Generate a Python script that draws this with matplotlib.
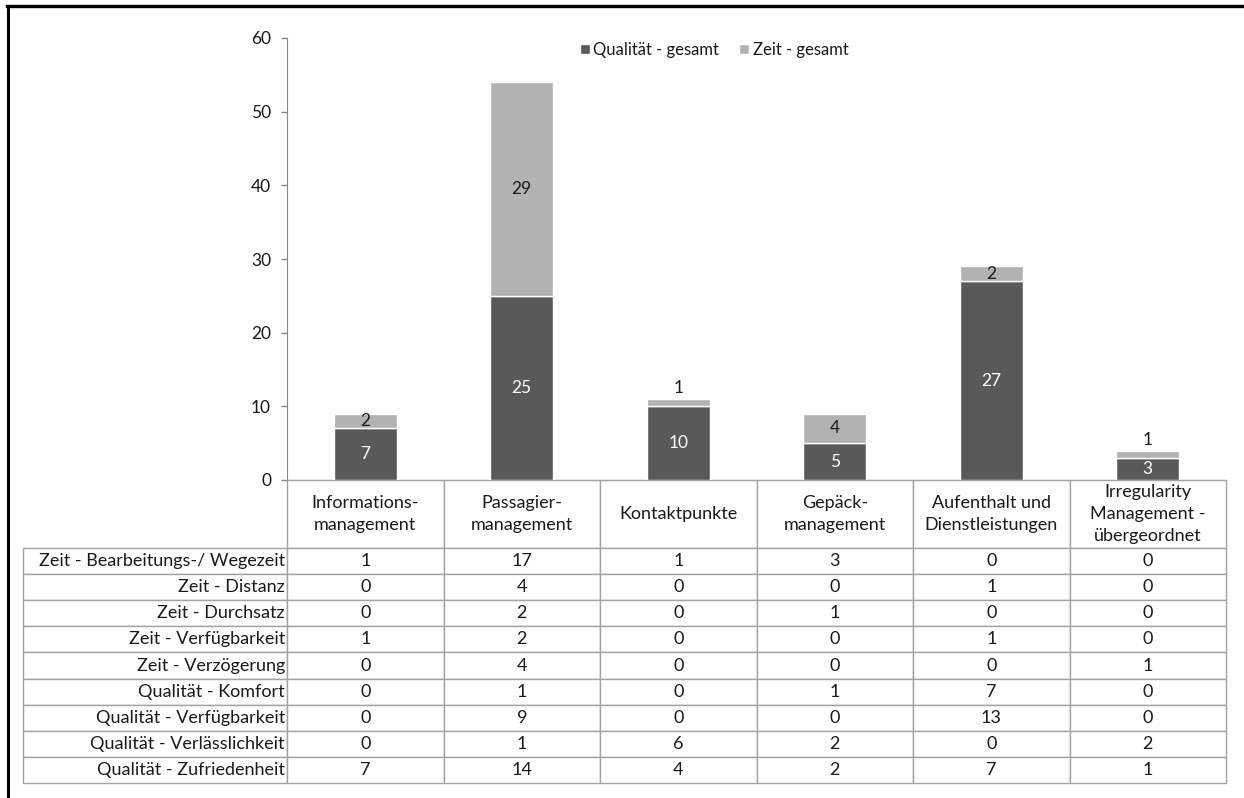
import matplotlib.pyplot as plt
from matplotlib.lines import Line2D
import numpy as np

plt.rcParams['font.family'] = ['Lato', 'DejaVu Sans']

categories = [
    "Informations-\nmanagement",
    "Passagier-\nmanagement",
    "Kontaktpunkte",
    "Gepäck-\nmanagement",
    "Aufenthalt und\nDienstleistungen",
    "Irregularity\nManagement -\nübergeordnet",
]
qualitaet_gesamt = [7, 25, 10, 5, 27, 3]
zeit_gesamt = [2, 29, 1, 4, 2, 1]

row_labels = [
    "Zeit - Bearbeitungs-/ Wegezeit",
    "Zeit - Distanz",
    "Zeit - Durchsatz",
    "Zeit - Verfügbarkeit",
    "Zeit - Verzögerung",
    "Qualität - Komfort",
    "Qualität - Verfügbarkeit",
    "Qualität - Verlässlichkeit",
    "Qualität - Zufriedenheit",
]
table_values = [
    [1, 17, 1, 3, 0, 0],
    [0, 4, 0, 0, 1, 0],
    [0, 2, 0, 1, 0, 0],
    [1, 2, 0, 0, 1, 0],
    [0, 4, 0, 0, 0, 1],
    [0, 1, 0, 1, 7, 0],
    [0, 9, 0, 0, 13, 0],
    [0, 1, 6, 2, 0, 2],
    [7, 14, 4, 2, 7, 1],
]

DARK = "#595959"
LIGHT = "#b2b2b2"
GRID = "#a3a3a3"
TXT = "#1a1a1a"
FS = 13

W, H = 1244, 798
fig = plt.figure(figsize=(W / 100, H / 100), dpi=100)
ax = fig.add_axes([287 / W, 1 - 480 / H, 939 / W, 442 / H])

x = np.arange(len(categories))
bw = 0.4
ax.bar(x, qualitaet_gesamt, bw, color=DARK, edgecolor="white", linewidth=1,
       label="Qualität - gesamt", zorder=3)
ax.bar(x, zeit_gesamt, bw, bottom=qualitaet_gesamt, color=LIGHT,
       edgecolor="white", linewidth=1, label="Zeit - gesamt", zorder=3)

for i, (q, z) in enumerate(zip(qualitaet_gesamt, zeit_gesamt)):
    ax.text(i, q / 2, str(q), ha="center", va="center", color="white", fontsize=12.5, zorder=4)
    if z <= 1:
        ax.text(i, q + z + 0.4, str(z), ha="center", va="bottom", color=TXT, fontsize=12.5, zorder=4)
    else:
        ax.text(i, q + z / 2, str(z), ha="center", va="center", color=TXT, fontsize=12.5, zorder=4)

ax.set_xlim(-0.5, len(categories) - 0.5)
ax.set_ylim(0, 60)
ax.set_yticks(range(0, 61, 10))
ax.set_xticks([])
ax.tick_params(axis="y", length=4, width=1, color="#868686", labelsize=12.5,
               labelcolor=TXT, pad=7.5)
for s in ["top", "right"]:
    ax.spines[s].set_visible(False)
ax.spines["left"].set_color("#868686")
ax.spines["bottom"].set_color(GRID)

ax.legend(loc="center", bbox_to_anchor=(0.455, 0.973), ncol=2, frameon=False,
          fontsize=12, handlelength=0.6, handleheight=0.6, handletextpad=0.2,
          columnspacing=1.2, labelcolor=TXT)

# data table under the chart (bbox covers the category columns only)
label_w = 264 / 939
cell_text = [[str(v) for v in row] for row in table_values]
tbl = ax.table(cellText=cell_text, rowLabels=row_labels, colLabels=categories,
               colWidths=[1 / 6] * 6, cellLoc="center", rowLoc="right",
               bbox=[0, -303 / 442, 1, 303 / 442])
tbl._autoColumns = []
tbl.auto_set_font_size(False)
tbl.set_fontsize(FS)
for (r, c), cell in tbl.get_celld().items():
    cell.set_edgecolor(GRID)
    cell.set_linewidth(1.0)
    cell.get_text().set_color(TXT)
    if r == 0:
        cell.set_height(68)
        cell.get_text().set_linespacing(1.45)
    else:
        cell.set_height(26.1)
    if c == -1:
        cell.set_width(label_w)
        cell.PAD = 0.008

# frame lines of the original screenshot
fig.add_artist(Line2D([7 / W, 1], [1 - 6 / H, 1 - 6 / H], color="black", lw=2.4))
fig.add_artist(Line2D([8 / W, 8 / W], [0, 1 - 6 / H], color="black", lw=2.2))

fig.savefig("out.png", dpi=100)
